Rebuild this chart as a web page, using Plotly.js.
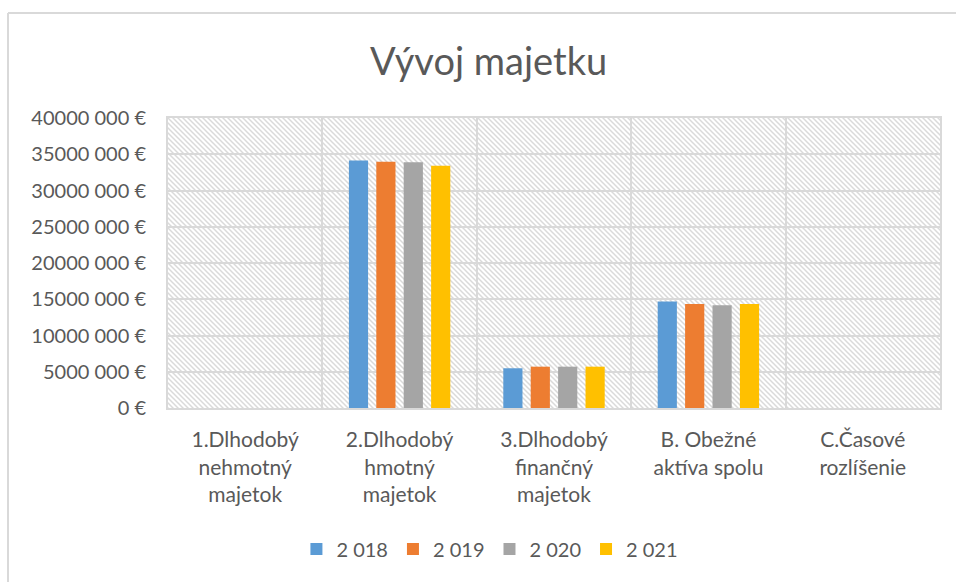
<!DOCTYPE html>
<html>
<head>
<meta charset="utf-8">
<script src="https://cdn.plot.ly/plotly-3.0.1.min.js"></script>
<style>html,body{margin:0;padding:0;background:#fff;}#chart{width:956px;height:582px;}</style>
</head>
<body>
<div id="chart"></div>
<script>
const categories = [
  "1.Dlhodobý<br>nehmotný<br>majetok",
  "2.Dlhodobý<br>hmotný<br>majetok",
  "3.Dlhodobý<br>finančný<br>majetok",
  "B. Obežné<br>aktíva spolu",
  "C.Časové<br>rozlíšenie"
];
const seriesNames = ["2 018", "2 019", "2 020", "2 021"];
const v2018 = [0, 34150000, 5480000, 14700000, 0];
const v2019 = [0, 33950000, 5700000, 14350000, 0];
const v2020 = [0, 33900000, 5700000, 14170000, 0];
const v2021 = [0, 33400000, 5700000, 14350000, 0];
const yTickVals = [0, 5000000, 10000000, 15000000, 20000000, 25000000, 30000000, 35000000, 40000000];
const yTickText = ["0 €", "5000 000 €", "10000 000 €", "15000 000 €", "20000 000 €", "25000 000 €", "30000 000 €", "35000 000 €", "40000 000 €"];

const colors = ["#5B9BD5", "#ED7D31", "#A5A5A5", "#FFC000"];
const allValues = [v2018, v2019, v2020, v2021];

const traces = allValues.map((vals, i) => ({
  type: "bar",
  name: seriesNames[i],
  x: categories,
  y: vals,
  marker: {color: colors[i]},
  hoverinfo: "none"
}));

const hatchSvg = '<svg xmlns="http://www.w3.org/2000/svg" width="772" height="290" viewBox="0 0 772 290" preserveAspectRatio="none">' +
  '<defs><pattern id="p" patternUnits="userSpaceOnUse" width="5" height="5">' +
  '<path d="M-1,-1 L6,6 M-1,4 L1,6 M4,-1 L6,1" stroke="#dadada" stroke-width="1.5"/>' +
  '</pattern></defs><rect width="772" height="290" fill="#ffffff"/><rect width="772" height="290" fill="url(#p)"/></svg>';

const fontFam = "Lato, 'Open Sans', sans-serif";
const textColor = "#595959";

const layout = {
  width: 956,
  height: 582,
  margin: {l: 168, r: 16, t: 118, b: 174},
  paper_bgcolor: "#ffffff",
  plot_bgcolor: "#ffffff",
  font: {family: fontFam, color: textColor, size: 20},
  title: {
    text: "Vývoj majetku",
    font: {family: fontFam, size: 38, color: textColor},
    x: 0.511, xanchor: "center", xref: "container",
    y: 1 - 62 / 582, yanchor: "middle", yref: "container"
  },
  barmode: "group",
  bargap: 0.29,
  bargroupgap: 0.3,
  showlegend: true,
  legend: {
    orientation: "h",
    x: 0.417, xanchor: "center",
    y: -0.486, yanchor: "middle",
    font: {family: fontFam, size: 20, color: textColor},
    traceorder: "normal",
    itemclick: false
  },
  xaxis: {
    type: "category",
    tickson: "boundaries",
    showgrid: true,
    gridcolor: "#d9d9d9",
    gridwidth: 2,
    showline: true,
    linecolor: "#d9d9d9",
    linewidth: 2,
    mirror: true,
    ticks: "",
    ticklabelstandoff: 12,
    tickfont: {family: fontFam, size: 21, color: textColor},
    fixedrange: true
  },
  yaxis: {
    range: [0, 40000000],
    tickmode: "array",
    tickvals: yTickVals,
    ticktext: yTickText,
    showgrid: true,
    gridcolor: "#d9d9d9",
    gridwidth: 2,
    showline: true,
    linecolor: "#d9d9d9",
    linewidth: 2,
    mirror: true,
    zeroline: false,
    ticks: "",
    ticklabelstandoff: 16,
    tickfont: {family: fontFam, size: 20, color: textColor},
    fixedrange: true
  },
  images: [{
    source: "data:image/svg+xml;charset=utf-8," + encodeURIComponent(hatchSvg),
    xref: "paper", yref: "paper",
    x: 0, y: 1, sizex: 1, sizey: 1,
    xanchor: "left", yanchor: "top",
    sizing: "stretch",
    layer: "below"
  }],
  shapes: [
    {type: "line", xref: "paper", yref: "paper", x0: (8 - 168) / 772, x1: (958 - 168) / 772, y0: 1 + (118 - 13) / 290, y1: 1 + (118 - 13) / 290, line: {color: "#d9d9d9", width: 2}},
    {type: "line", xref: "paper", yref: "paper", x0: (8 - 168) / 772, x1: (8 - 168) / 772, y0: 1 + (118 - 13) / 290, y1: -(584 - 408) / 290, line: {color: "#d9d9d9", width: 2}}
  ]
};

Plotly.newPlot("chart", traces, layout, {displayModeBar: false, staticPlot: true});
</script>
</body>
</html>
